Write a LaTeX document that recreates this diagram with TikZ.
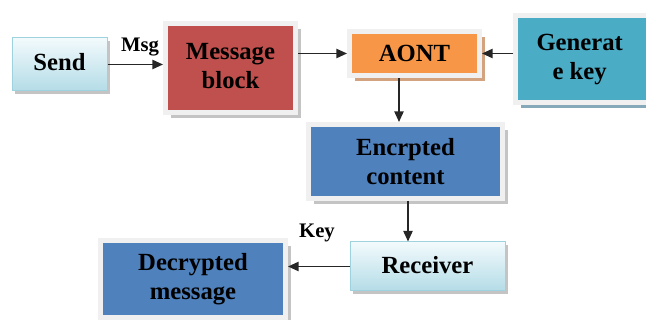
\documentclass[tikz,border=0pt]{standalone}
\usepackage{fontspec}
\setmainfont{Liberation Serif}
\usetikzlibrary{arrows.meta,shadows,calc}

\definecolor{frameg}{HTML}{F0F0F0}
\definecolor{shadg}{HTML}{C4C4C4}
\definecolor{redfill}{HTML}{C0504D}
\definecolor{orangefill}{HTML}{F79646}
\definecolor{orangeshad}{HTML}{D3A27E}
\definecolor{tealfill}{HTML}{4BACC6}
\definecolor{tealshad}{HTML}{86A9BA}
\definecolor{bluefill}{HTML}{4F81BD}
\definecolor{gradtop}{HTML}{F2FAFC}
\definecolor{gradbot}{HTML}{B4DCE7}
\definecolor{gradline}{HTML}{9FD2DF}

% two centred lines, raised a little inside their box
\newcommand{\twolines}[3]{\raisebox{#1}{\begin{tabular}{@{}c@{}}#2\\#3\end{tabular}}}

\tikzset{
  boxtext/.style={font=\bfseries\fontsize{18.5pt}{22pt}\selectfont, align=center, text=black},
  framed/.style={boxtext, draw=frameg, line width=3.75pt, fill=#1, inner sep=0pt,
    drop shadow={shadow xshift=4pt, shadow yshift=-4pt, fill=shadg, opacity=1}},
  lightbox/.style={boxtext, draw=gradline, line width=0.75pt, inner sep=0pt,
    top color=gradtop, bottom color=gradbot,
    drop shadow={shadow xshift=2.6pt, shadow yshift=-2.6pt, fill=shadg, opacity=1}},
  flow/.style={draw=black!85, line width=1.1pt, -{Triangle[length=8pt,width=7pt]}},
  edgelabel/.style={font=\bfseries\fontsize{15.5pt}{18pt}\selectfont, text=black}
}

\begin{document}
\begin{tikzpicture}[x=0.75pt, y=-0.75pt]
  \useasboundingbox (0,0) rectangle (646,320);

  % process boxes
  \node[lightbox, minimum width=71.25pt, minimum height=39.75pt] (send) at (59.5,64.5) {\raisebox{3.5pt}{Send}};
  \node[framed=redfill, minimum width=97.5pt, minimum height=66.75pt] (msgblk) at (230.5,68) {\twolines{3pt}{Message}{block}};
  \node[framed=orangefill, minimum width=97.5pt, minimum height=33pt,
        drop shadow={shadow xshift=4pt, shadow yshift=-4pt, fill=orangeshad, opacity=1}] (aont) at (414.5,53.5) {AONT};
  \node[framed=tealfill, minimum width=110.25pt, minimum height=65.25pt,
        drop shadow={shadow xshift=4pt, shadow yshift=-4pt, fill=tealshad, opacity=1}] (genkey) at (589,59) {\hspace*{-14pt}\twolines{3pt}{Generat}{e key}};
  \node[framed=bluefill, minimum width=145.5pt, minimum height=55.5pt] (enc) at (405.5,161.5) {Encrpted\\content};
  \node[lightbox, minimum width=116.25pt, minimum height=36.75pt] (recv) at (427.5,266.5) {\raisebox{2pt}{Receiver}};
  \node[framed=bluefill, minimum width=138.75pt, minimum height=57.75pt] (dec) at (193,279) {Decrypted\\message};

  % connectors
  \draw[flow] (send.east) -- (send.east -| msgblk.west);
  \draw[flow] (msgblk.east |- aont.west) -- (aont.west);
  \draw[flow] (genkey.west |- aont.east) -- (aont.east);
  \coordinate (aontout) at ($(aont.south)+(-15.5,0)$);
  \draw[flow] (aontout) -- (aontout |- enc.north);
  \coordinate (encout) at ($(enc.south)+(2.5,0)$);
  \draw[flow] (encout) -- (encout |- recv.north);
  \draw[flow] (recv.west) -- (recv.west -| dec.east);

  % connector labels
  \node[edgelabel] (msglbl) at (140,47) {Msg};
  \node[edgelabel] (keylbl) at (317,233) {Key};
\end{tikzpicture}
\end{document}
